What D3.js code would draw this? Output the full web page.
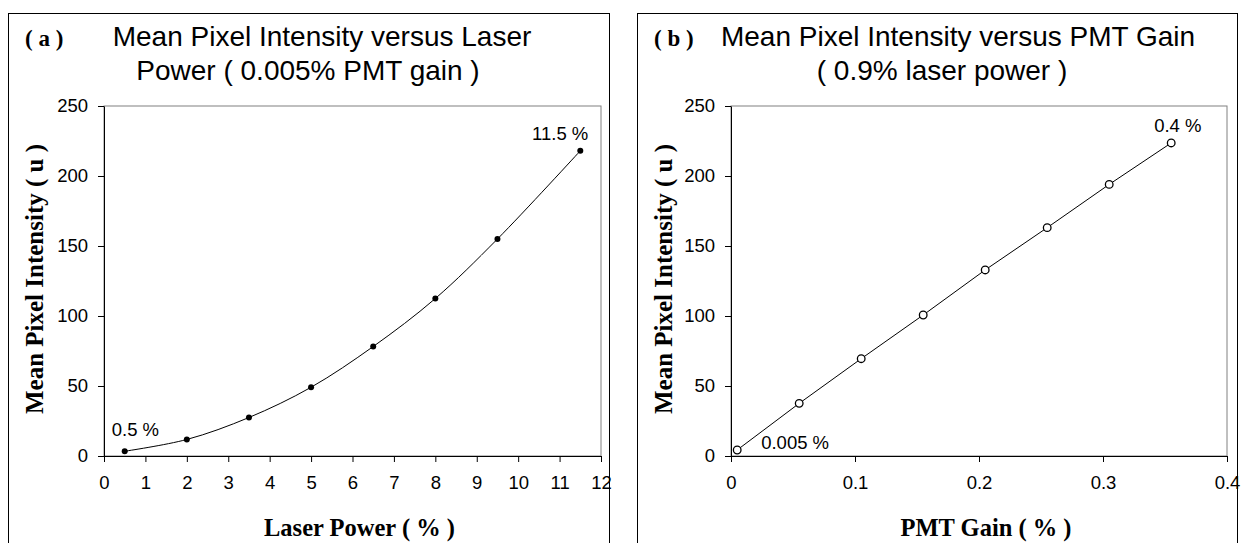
<!DOCTYPE html>
<html>
<head>
<meta charset="utf-8">
<script src="https://cdn.jsdelivr.net/npm/d3@7"></script>
<style>
  body { margin: 0; background: #fff; }
  text { font-family: Arial, "Liberation Sans", sans-serif; fill: #000; }
  .serif { font-family: "Times New Roman", "Liberation Serif", serif; font-weight: bold; }
  .axis path, .axis line { stroke: #000; }
  .axis text { font-size: 18.5px; }
</style>
</head>
<body>
<svg id="chart" width="1243" height="543"></svg>
<script>
// panel (a): intensity vs laser power
const laserPower = [0.5, 2, 3.5, 5, 6.5, 8, 9.5, 11.5]
const laserIntensity = [3.4, 11.8, 27.5, 49.1, 78.2, 112.5, 155, 218]
const laserTicks = [0, 1, 2, 3, 4, 5, 6, 7, 8, 9, 10, 11, 12]

// panel (b): intensity vs PMT gain
const pmtGain = [0.005, 0.055, 0.105, 0.155, 0.205, 0.255, 0.305, 0.355]
const pmtIntensity = [4.3, 37.6, 69.5, 100.7, 132.9, 163.1, 194, 223.6]
const pmtTicks = [0, 0.1, 0.2, 0.3, 0.4]

const yTicks = [0, 50, 100, 150, 200, 250]

const svg = d3.select("#chart")

function panel(opts) {
    const g = svg.append("g")
    const top = 106, bottom = 456

    // outer chart box
    g.append("rect")
        .attr("x", opts.boxX + 0.5).attr("y", 13.5)
        .attr("width", opts.boxW).attr("height", 600)
        .attr("fill", "none").attr("stroke", "#000")

    const xScale = d3.scaleLinear().domain(opts.xDomain).range([opts.left, opts.right])
    const yScale = d3.scaleLinear().domain([0, 250]).range([bottom, top])

    // plot area frame (grey top/right)
    g.append("rect")
        .attr("x", opts.left).attr("y", top)
        .attr("width", opts.right - opts.left).attr("height", bottom - top)
        .attr("fill", "none").attr("stroke", "#808080")

    const xAxis = d3.axisBottom(xScale).tickValues(opts.xTicks).tickSize(6).tickPadding(14)
        .tickFormat(opts.fmt).tickSizeOuter(0)
    const yAxis = d3.axisLeft(yScale).tickValues(yTicks).tickSize(6).tickPadding(10).tickSizeOuter(0)

    g.append("g").attr("class", "axis")
        .attr("transform", `translate(0,${bottom})`)
        .call(xAxis)
        .call(a => a.selectAll("text").attr("font-family", null))
    g.append("g").attr("class", "axis")
        .attr("transform", `translate(${opts.left},0)`)
        .call(yAxis)
        .call(a => a.selectAll("text").attr("font-family", null))

    const line = d3.line()
        .x((d, i) => xScale(opts.xs[i]))
        .y(d => yScale(d))
        .curve(opts.curve)
    g.append("path")
        .datum(opts.ys)
        .attr("d", line)
        .attr("fill", "none").attr("stroke", "#000").attr("stroke-width", 1)

    g.selectAll(".pt")
        .data(opts.ys)
        .join("circle")
        .attr("cx", (d, i) => xScale(opts.xs[i]))
        .attr("cy", d => yScale(d))
        .attr("r", opts.filled ? 3 : 3.8)
        .attr("fill", opts.filled ? "#000" : "#fff")
        .attr("stroke", "#000").attr("stroke-width", opts.filled ? 0 : 1.3)

    // end-point annotations
    opts.notes.forEach(n => {
        g.append("text")
            .attr("x", xScale(n.x) + n.dx).attr("y", yScale(n.y) + n.dy)
            .attr("text-anchor", n.anchor)
            .attr("font-size", 18.5)
            .text(n.text)
    })

    // titles
    g.append("text").attr("class", "serif")
        .attr("x", opts.boxX + 17).attr("y", 46).attr("font-size", 23)
        .text(opts.tag)
    opts.title.forEach((t, i) => {
        g.append("text")
            .attr("x", t.x).attr("y", 46 + i * 34)
            .attr("text-anchor", "middle")
            .attr("font-size", 28)
            .text(t.text)
    })

    g.append("text").attr("class", "serif")
        .attr("x", (opts.left + opts.right) / 2 + 7).attr("y", 536)
        .attr("text-anchor", "middle").attr("font-size", 24.5)
        .text(opts.xLabel)
    g.append("text").attr("class", "serif")
        .attr("transform", `translate(${opts.boxX + 35},${(top + bottom) / 2 - 2}) rotate(-90)`)
        .attr("text-anchor", "middle").attr("font-size", 25)
        .text("Mean Pixel Intensity ( u )")
}

panel({
    boxX: 8, boxW: 601, left: 104, right: 601,
    xDomain: [0, 12], xTicks: laserTicks, fmt: d3.format("d"),
    xs: laserPower, ys: laserIntensity,
    curve: d3.curveCatmullRom.alpha(0.5), filled: true,
    tag: "( a )",
    title: [{x: 322, text: "Mean Pixel Intensity versus Laser"},
            {x: 308, text: "Power ( 0.005% PMT gain )"}],
    xLabel: "Laser Power ( % )",
    notes: [{x: 0.5, y: 3.4, dx: -13, dy: -15, anchor: "start", text: "0.5 %"},
            {x: 11.5, y: 218, dx: 8, dy: -11, anchor: "end", text: "11.5 %"}]
})

panel({
    boxX: 637, boxW: 600, left: 731, right: 1227,
    xDomain: [0, 0.4], xTicks: pmtTicks, fmt: d => d === 0 ? "0" : d3.format(".1f")(d),
    xs: pmtGain, ys: pmtIntensity,
    curve: d3.curveLinear, filled: false,
    tag: "( b )",
    title: [{x: 958, text: "Mean Pixel Intensity versus PMT Gain"},
            {x: 942, text: "( 0.9% laser power )"}],
    xLabel: "PMT Gain ( % )",
    notes: [{x: 0.005, y: 4.3, dx: 24, dy: -1, anchor: "start", text: "0.005 %"},
            {x: 0.355, y: 223.6, dx: -17, dy: -11, anchor: "start", text: "0.4 %"}]
})
</script>
</body>
</html>
